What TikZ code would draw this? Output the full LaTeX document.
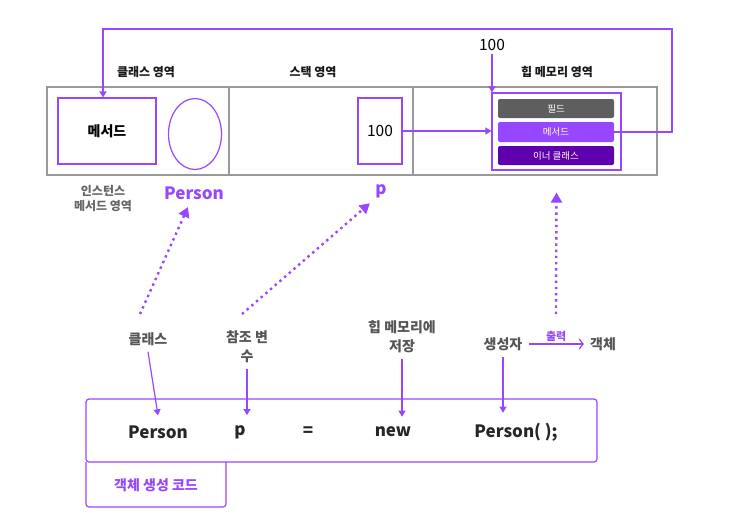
\documentclass[tikz,border=0pt]{standalone}
\usepackage{fontspec}
\setmainfont{Noto Sans CJK KR}
\usetikzlibrary{arrows.meta, positioning, shapes.geometric}
\definecolor{vio}{HTML}{9747FF}
\definecolor{darkvio}{HTML}{5E00AD}
\definecolor{bargray}{HTML}{5E5E5E}
\definecolor{labgray}{HTML}{555555}
\tikzset{
  area/.style={rectangle,draw=black!40,line width=1.2pt,minimum height=88pt,inner sep=0pt},
  slot/.style={rectangle,draw=vio,line width=1.2pt,inner sep=0pt,font=\bfseries\fontsize{14}{16}\selectfont},
  bar/.style={rectangle,rounded corners=2pt,minimum width=116pt,minimum height=19pt,inner sep=0pt,text=white,font=\fontsize{9.5}{10}\selectfont},
  areatitle/.style={font=\bfseries\fontsize{12}{14}\selectfont,text=black!90},
  varname/.style={font=\bfseries\fontsize{17}{19}\selectfont,text=vio},
  tag/.style={align=center,inner sep=6pt,font=\bfseries\fontsize{14}{19}\selectfont,text=labgray},
  code/.style={inner sep=10pt,font=\bfseries\fontsize{17}{19}\selectfont,text=black!85},
  line/.style={-{Triangle[width=7pt,length=6pt]},draw=vio,line width=1.2pt},
  dots/.style={draw=vio,line width=2.4pt,dash pattern=on 2.4pt off 3.8pt,-{Triangle[width=11pt,length=10pt]}}
}

\begin{document}
\begin{tikzpicture}[x=1pt,y=-1pt]
\useasboundingbox (0,0) rectangle (735,528);
% memory areas
\node[area, minimum width=182pt] (acls) at (138,131) {};
\node[area, minimum width=184pt] (astk) at (321,131) {};
\node[area, minimum width=244pt] (aheap) at (535,131) {};
\node[areatitle] at (146,72) {클래스 영역};
\node[areatitle] at (313,72) {스택 영역};
\node[areatitle] at (557,72) {힙 메모리 영역};

% class area
\node[slot, minimum width=98pt, minimum height=66pt] (mth) at (107,131) {메서드};
\node[ellipse, draw=vio, line width=1.2pt, minimum width=53pt, minimum height=71pt, inner sep=0pt] (inst) at (195,134) {};
\node[align=center, font=\bfseries\fontsize{12}{15}\selectfont, text=black!60] (imth) at (103,199) {인스턴스\\메서드 영역};
\node[varname] (plab) at (194,193) {Person};

% stack area
\node[slot, minimum width=44pt, minimum height=66pt, font=\fontsize{15.5}{17}\selectfont] (s100) at (380,131) {100};
\node[varname] (pvar) at (381,191) {p};

% heap area
\node[rectangle, draw=vio, line width=1.2pt, minimum width=129pt, minimum height=77pt, inner sep=0pt] (heap) at (556.5,131.5) {};
\node[bar, fill=bargray] (fbar) at (556,108.5) {필드};
\node[bar, fill=vio, minimum height=20pt] (mbar) at (556,132) {메서드};
\node[bar, fill=darkvio] (ibar) at (556,155.5) {이너 클래스};
\node[font=\fontsize{15.5}{17}\selectfont] (top100) at (492,45) {100};

\coordinate (loopR) at (672,29);
\coordinate (loopL) at (103,29);
\draw[line] (mbar.east) -| (loopR) -- (loopL) -- (loopL |- mth.north);
\draw[line] (top100.south) -- (top100.south |- heap.north);
\draw[line] (s100.east) -- (s100.east -| heap.west);

% labels
\node[tag] (lclass) at (148,339) {클래스};
\node[tag] (lref) at (247,347) {참조 변\\수};
\node[tag] (lheap) at (402,337) {힙 메모리에\\저장};
\node[tag] (lctor) at (503,344) {생성자};
\node[tag] (lobj) at (603,344) {객체};
\draw[line, -{Straight Barb[length=4pt,width=10pt]}] (lctor.east) -- node[above=-1pt, font=\bfseries\fontsize{11}{12}\selectfont, text=vio] {출력} (lobj.west);

\coordinate (dA) at (140,314);
\coordinate (dB) at (242,314);
\coordinate (dC) at (556,314);
\draw[dots] (dA) -- ([xshift=-6pt,yshift=-4pt]plab.south);
\draw[dots] (dB) -- ([xshift=-2pt,yshift=-2pt]pvar.south west);
\draw[dots] (dC) -- ([yshift=-22pt]heap.south);

% code
\draw[vio, line width=1.2pt, rounded corners=3pt] (86,399) rectangle (597,462);
\draw[vio, line width=1.2pt, rounded corners=3pt] (86,462) -- (86,507) -- (226,507) -- (226,462);
\node[font=\bfseries\fontsize{14}{16}\selectfont, text=vio] (ctab) at (156,485) {객체 생성 코드};
\node[code] (cPerson) at (158,432) {Person};
\node[code] (cp) at (240,432) {p};
\node[code] (ceq) at (308,432) {=};
\node[code] (cnew) at (393,432) {new};
\node[code] (cctor) at (516,432) {Person( );};
\draw[line] (lclass.south) -- (cPerson.north);
\draw[line] (lref.south) -- (lref.south |- cp.north);
\draw[line] (lheap.south) -- (lheap.south |- cnew.north);
\draw[line] (lctor.south) -- (lctor.south |- cctor.north);
\end{tikzpicture}
\end{document}
